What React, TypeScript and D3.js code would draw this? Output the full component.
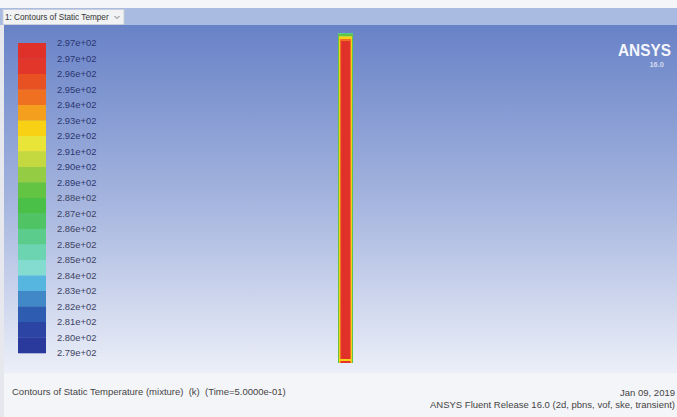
import React from "react";
import * as d3 from "d3";

// Contour legend levels (K), top to bottom, as printed by Fluent
const levelLabels = [
  "2.97e+02", "2.97e+02", "2.96e+02", "2.95e+02", "2.94e+02", "2.93e+02", "2.92e+02",
  "2.91e+02", "2.90e+02", "2.89e+02", "2.88e+02", "2.87e+02", "2.86e+02", "2.85e+02",
  "2.85e+02", "2.84e+02", "2.83e+02", "2.82e+02", "2.81e+02", "2.80e+02", "2.79e+02",
];
const tMin = 279.0;
const tMax = 297.3;

// Band colours, hottest (top) to coldest (bottom)
const bandColorsTopDown = [
  "#e0302a", "#e2362a", "#e85222", "#ee7020", "#f4a01e", "#f8d014", "#e8e438",
  "#c4d840", "#94cc44", "#62c442", "#4ac048", "#50c464", "#5ccc8c", "#6cd4b0",
  "#84dcd0", "#56b6e0", "#4088c8", "#2e5cb0", "#2c44a4", "#2a3a9c",
];

// Temperature across the water column width (1 cell per pixel column, left to right)
const crossTemps = [289.0, 292.0, 294.0, 295.8, 297.2, 297.2, 297.2, 297.2, 297.2, 297.2, 297.2, 295.8, 294.0, 292.0, 289.0];
// Temperature of the rows at the free surface (top) and at the bottom of the column
const topTemps = [285.5, 288.5, 290.5, 292.5, 294.5, 296.0];
const bottomTemps = [292.4, 295.6];
const bodyTemp = 297.2;

const W = 677;
const H = 417;

export default function App() {
  const bandColors = [...bandColorsTopDown].reverse();
  const color = d3.scaleQuantize<string>().domain([tMin, tMax]).range(bandColors);

  // Legend scale: level index -> y
  const legendY = d3.scaleLinear().domain([0, levelLabels.length - 1]).range([43, 353]);
  const nBands = levelLabels.length - 1;

  // Column geometry
  const colX = d3.scaleLinear().domain([0, crossTemps.length]).range([338, 353]);
  const capRow = 1.6;
  const colTop = 32.5;
  const colBottom = 362.5;
  const rows: { y0: number; y1: number; t: number }[] = [];
  topTemps.forEach((t, j) => rows.push({ y0: colTop + j * capRow, y1: colTop + (j + 1) * capRow, t }));
  const bodyStart = colTop + topTemps.length * capRow;
  const bodyEnd = colBottom - bottomTemps.length * capRow;
  rows.push({ y0: bodyStart, y1: bodyEnd, t: bodyTemp });
  bottomTemps.forEach((t, j) =>
    rows.push({ y0: bodyEnd + j * capRow, y1: bodyEnd + (j + 1) * capRow, t })
  );

  const font = "'Liberation Sans', Arial, sans-serif";

  return (
    <svg
      width={W}
      height={H}
      style={{ position: "absolute", left: 0, top: 0, display: "block" }}
    >
      <defs>
        <linearGradient id="bg" x1="0" y1="0" x2="0" y2="1">
          <stop offset="0" stopColor="#6882c7" />
          <stop offset="0.5" stopColor="#a4b4de" />
          <stop offset="1" stopColor="#eceff8" />
        </linearGradient>
      </defs>

      {/* window frame */}
      <rect x={0} y={0} width={W} height={H} fill="#f4f5f8" />
      <rect x={0} y={8} width={W} height={17} fill="#a9bbe0" />
      <rect x={3} y={9.5} width={121} height={15} fill="#f1f2f4" stroke="#c8ccd6" strokeWidth={0.8} />
      <text x={5} y={20} fontFamily={font} fontSize={8.2} fill="#333">
        1: Contours of Static Temper
      </text>
      <path d="M114.5 16 l2.5 2.5 l2.5 -2.5" fill="none" stroke="#555" strokeWidth={0.8} />

      {/* graphics viewport */}
      <rect x={4} y={25} width={W - 4} height={348} fill="url(#bg)" />
      <rect x={0} y={25} width={4} height={392} fill="#e6e8ee" />

      {/* colour legend */}
      {d3.range(nBands).map((i) => (
        <rect
          key={i}
          x={18}
          y={legendY(i)}
          width={28}
          height={legendY(i + 1) - legendY(i) + 0.3}
          fill={bandColorsTopDown[i]}
        />
      ))}
      {levelLabels.map((l, i) => (
        <text
          key={i}
          x={57}
          y={legendY(i) + 3.2}
          fontFamily={font}
          fontSize={9.4}
          fill={i < 10 ? "#2c3670" : "#3c4262"}
        >
          {l}
        </text>
      ))}

      {/* water column contours */}
      <g shapeRendering="crispEdges">
        {rows.map((r, j) =>
          crossTemps.map((ct, i) => (
            <rect
              key={`${j}-${i}`}
              x={colX(i)}
              y={r.y0}
              width={colX(i + 1) - colX(i)}
              height={r.y1 - r.y0}
              fill={color(Math.min(ct, r.t))}
            />
          ))
        )}
      </g>

      {/* logo */}
      <text
        x={671}
        y={56}
        textAnchor="end"
        fontFamily={font}
        fontWeight="bold"
        fontSize={17}
        fill="#f4f6fc"
        textLength={53}
        lengthAdjust="spacingAndGlyphs"
      >
        ANSYS
      </text>
      <text x={664} y={67} textAnchor="end" fontFamily={font} fontWeight="bold" fontSize={7.5} fill="#d4daf0">
        16.0
      </text>

      {/* footer */}
      <text x={12} y={395} fontFamily={font} fontSize={9.5} fill="#444" style={{ whiteSpace: "pre" }}>
        {"Contours of Static Temperature (mixture)  (k)  (Time=5.0000e-01)"}
      </text>
      <text x={675} y={396} textAnchor="end" fontFamily={font} fontSize={9.5} fill="#444">
        Jan 09, 2019
      </text>
      <text x={675} y={408} textAnchor="end" fontFamily={font} fontSize={9.5} fill="#444">
        ANSYS Fluent Release 16.0 (2d, pbns, vof, ske, transient)
      </text>
    </svg>
  );
}
